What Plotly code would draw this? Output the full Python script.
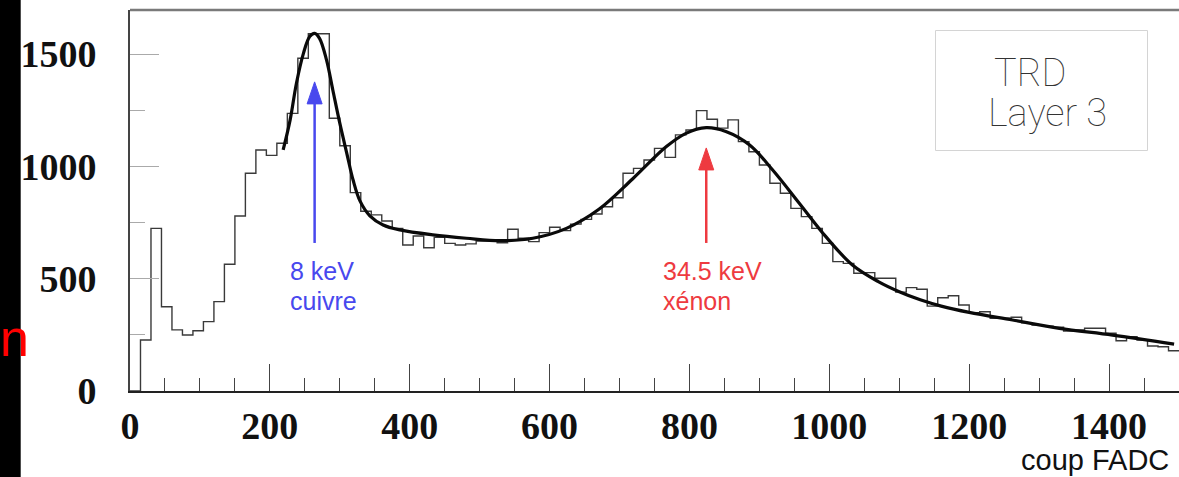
import plotly.graph_objects as go

# ---------------- data ----------------
BIN_WIDTH = 15
counts = [0, 227, 724, 375, 272, 249, 268, 309, 398, 564,
          779, 969, 1073, 1049, 1103, 1236, 1481, 1590, 1590, 1214,
          1092, 883, 800, 784, 757, 724, 650, 690, 638, 684,
          657, 650, 655, 668, 668, 660, 720, 680, 665, 705,
          729, 714, 743, 764, 788, 820, 860, 969, 991, 1028,
          1080, 1040, 1140, 1162, 1248, 1210, 1170, 1207, 1110, 1065,
          1006, 925, 880, 813, 776, 724, 657, 576, 568, 524,
          527, 502, 502, 440, 460, 453, 378, 415, 424, 383,
          349, 353, 324, 324, 328, 304, 294, 289, 284, 267,
          272, 279, 279, 257, 224, 242, 227, 200, 197, 179]

fit_x = [219, 229, 238, 248, 257, 264, 271, 281, 290, 300, 310, 319, 329, 343,
         362, 386, 433, 481, 529, 576, 624, 671, 719, 767, 795, 824, 852, 886,
         919, 957, 995, 1033, 1070, 1100, 1130, 1160, 1200, 1262, 1329, 1405, 1493]
fit_y = [1073, 1207, 1370, 1503, 1578, 1592, 1570, 1474, 1340, 1192, 1058, 939, 845, 780,
         739, 717, 695, 680, 669, 680, 724, 810, 945, 1088, 1147, 1172, 1155, 1095,
         984, 836, 687, 561, 487, 442, 406, 378, 350, 316, 279, 249, 209]

x_ticks = [0, 200, 400, 600, 800, 1000, 1200, 1400]
y_ticks = [0, 500, 1000, 1500]

peaks = [
    {"x": 264, "tip": 1376, "tail": 659, "lines": ["8 keV", "cuivre"], "color": "#4848ee"},
    {"x": 824, "tip": 1082, "tail": 659, "lines": ["34.5 keV", "xénon"], "color": "#ee3a40"},
]

# ---------------- layout constants ----------------
W, H = 1179, 477
ML, MR, MT, MB = 130, 0, 10, 86
XMAX, YMAX = 1500, 1696
PW, PH = W - ML - MR, H - MT - MB


def px2x(px):
    return (px - ML) / PW * XMAX


def py2y(py):
    return (MT + PH - py) / PH * YMAX


def px2paper(px):
    return (px - ML) / PW


def py2paper(py):
    return (MT + PH - py) / PH


edges = [i * BIN_WIDTH for i in range(len(counts))] + [len(counts) * BIN_WIDTH]
steps = counts + [counts[-1]]

fig = go.Figure()
fig.add_trace(go.Scatter(x=edges, y=steps, mode="lines", line_shape="hv",
                         line=dict(color="#3a3a3a", width=1.4), hoverinfo="skip"))
fig.add_trace(go.Scatter(x=fit_x, y=fit_y, mode="lines", line_shape="spline",
                         line=dict(color="#0a0a0a", width=3.2), hoverinfo="skip"))

shapes = []
annotations = []
for p in peaks:
    head_px = 22
    shapes.append(dict(type="line", xref="x", yref="y", x0=p["x"], x1=p["x"],
                       y0=p["tail"], y1=p["tip"] - 15 * YMAX / PH,
                       line=dict(color=p["color"], width=2.5)))
    shapes.append(dict(type="path", xref="x", yref="y", xsizemode="pixel", ysizemode="pixel",
                       xanchor=p["x"], yanchor=p["tip"],
                       path=f"M0,0 L-7.5,-{head_px} L7.5,-{head_px} Z",
                       fillcolor=p["color"], line=dict(color=p["color"], width=1)))

# label texts (left aligned)
lab_pos = [(288, 271, 301), (661, 271, 301)]
for p, (lx, y1, y2) in zip(peaks, lab_pos):
    for txt, py in zip(p["lines"], (y1, y2)):
        annotations.append(dict(text=txt, xref="x", yref="y", x=px2x(lx), y=py2y(py),
                                xanchor="left", yanchor="middle", showarrow=False,
                                font=dict(family="Liberation Sans", size=25, color=p["color"])))

# Legend box
shapes.append(dict(type="rect", xref="paper", yref="paper",
                   x0=px2paper(935.5), x1=px2paper(1147.5), y0=py2paper(150.5), y1=py2paper(30.5),
                   line=dict(color="#d4d4d4", width=1), fillcolor="rgba(0,0,0,0)"))
annotations.append(dict(text="TRD", xref="paper", yref="paper", x=px2paper(1030), y=py2paper(73),
                        xanchor="center", yanchor="middle", showarrow=False,
                        font=dict(family="Roboto", size=38, color="#333333", weight=100)))
annotations.append(dict(text="Layer 3", xref="paper", yref="paper", x=px2paper(1047), y=py2paper(113),
                        xanchor="center", yanchor="middle", showarrow=False,
                        font=dict(family="Roboto", size=38, color="#333333", weight=100)))

# top frame line
shapes.append(dict(type="line", xref="paper", yref="paper", x0=0, x1=1, y0=1, y1=1,
                   line=dict(color="#7a7a7a", width=2.5)))

# black strip on the left + red letter
shapes.append(dict(type="rect", xref="paper", yref="paper",
                   x0=px2paper(-5), x1=px2paper(20.7), y0=-0.5, y1=1.5,
                   fillcolor="black", line=dict(width=0), layer="above"))
annotations.append(dict(text="n", xref="paper", yref="paper", x=px2paper(14), y=py2paper(338),
                        xanchor="center", yanchor="middle", showarrow=False,
                        font=dict(family="Liberation Sans", size=52, color="#ff0000")))

# x title
annotations.append(dict(text="coup FADC", xref="paper", yref="paper", x=px2paper(1171), y=py2paper(460),
                        xanchor="right", yanchor="middle", showarrow=False,
                        font=dict(family="Liberation Sans", size=29, color="#111111")))

fig.update_layout(
    width=W, height=H,
    margin=dict(l=ML, r=MR, t=MT, b=MB, pad=0),
    paper_bgcolor="white", plot_bgcolor="white",
    showlegend=False,
    shapes=shapes, annotations=annotations,
    xaxis=dict(range=[0, XMAX], tickvals=x_ticks, ticktext=[str(v) for v in x_ticks],
               ticks="inside", ticklen=27, tickwidth=1, tickcolor="#444444",
               minor=dict(dtick=50, tick0=0, ticks="inside", ticklen=13, tickwidth=1, tickcolor="#444444",
                          showgrid=False),
               showline=True, linecolor="#222222", linewidth=2, showgrid=False, zeroline=False,
               tickfont=dict(family="Liberation Serif", size=38, color="#111111", weight="bold"),
               ticklabelstandoff=0, fixedrange=True),
    yaxis=dict(range=[0, YMAX], tickvals=y_ticks, ticktext=[str(v) for v in y_ticks],
               ticks="inside", ticklen=29, tickwidth=1, tickcolor="#aaaaaa",
               minor=dict(dtick=250, tick0=0, ticks="inside", ticklen=15, tickwidth=1, tickcolor="#aaaaaa",
                          showgrid=False),
               showline=True, linecolor="#444444", linewidth=2, showgrid=False, zeroline=False,
               tickfont=dict(family="Liberation Serif", size=38, color="#111111", weight="bold"),
               ticklabelstandoff=24, fixedrange=True),
)

fig.write_html("out.html")
